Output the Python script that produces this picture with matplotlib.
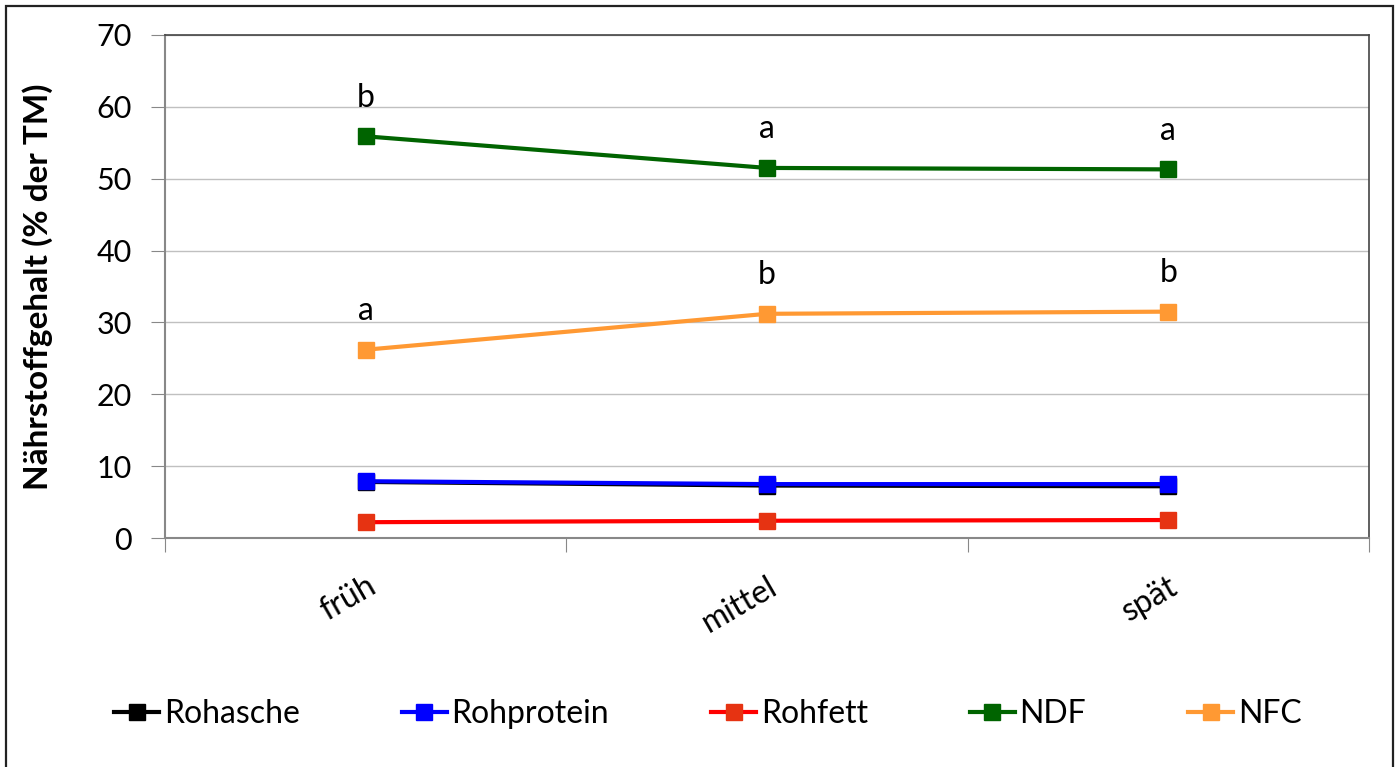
import matplotlib.pyplot as plt
from matplotlib.patches import Rectangle

# Daten
stufen = ['früh', 'mittel', 'spät']
rohasche = [7.8, 7.3, 7.2]
rohprotein = [7.9, 7.5, 7.5]
rohfett = [2.2, 2.4, 2.5]
ndf = [55.9, 51.5, 51.3]
nfc = [26.2, 31.2, 31.5]
buchst_ndf = ['b', 'a', 'a']
buchst_nfc = ['a', 'b', 'b']

plt.rcParams['font.family'] = ['Lato', 'DejaVu Sans']

fig = plt.figure(figsize=(13.99, 7.67), dpi=100)
ax = fig.add_axes([165/1399, 1 - 538/767, (1369-165)/1399, (538-35)/767])

# Rahmen um die ganze Grafik
fig.patches.append(Rectangle((6/1399, -0.02), (1393-6)/1399, 1.02 - 6/767,
                             transform=fig.transFigure, fill=False,
                             edgecolor='#222222', linewidth=1.6))

x = [0.5, 1.5, 2.5]
serien = [
    ('Rohasche', rohasche, 'black', 'black'),
    ('Rohprotein', rohprotein, '#0000ff', '#0000ff'),
    ('Rohfett', rohfett, '#ff0000', '#e63312'),
    ('NDF', ndf, '#006400', '#006400'),
    ('NFC', nfc, '#ff9933', '#ff9933'),
]
for name, werte, farbe, mfarbe in serien:
    ax.plot(x, werte, color=farbe, linewidth=3, marker='s', markersize=12,
            markerfacecolor=mfarbe, markeredgecolor=mfarbe, label=name)

# Signifikanzbuchstaben
for xi, v, b in zip(x, ndf, buchst_ndf):
    ax.text(xi, v + 3.3, b, ha='center', va='bottom', fontsize=23)
for xi, v, b in zip(x, nfc, buchst_nfc):
    ax.text(xi, v + 3.3, b, ha='center', va='bottom', fontsize=23)

ax.set_xlim(0, 3)
ax.set_ylim(0, 70)
ax.set_yticks(range(0, 71, 10))
ax.tick_params(axis='y', labelsize=22, length=10, color='#888888', pad=14)
ax.set_xticks([0, 1, 2, 3])
ax.set_xticklabels([])
ax.set_xticks(x, minor=True)
ax.set_xticklabels(stufen, minor=True, rotation=30, ha='right', rotation_mode='anchor', fontsize=23)
ax.tick_params(axis='x', which='major', length=10, color='#888888')
ax.tick_params(axis='x', which='minor', length=0, pad=24)
ax.grid(axis='y', color='#c0c0c0', linewidth=1)
ax.set_axisbelow(True)

for s in ['left', 'bottom']:
    ax.spines[s].set_color('#888888')
    ax.spines[s].set_linewidth(1.5)
for s in ['top', 'right']:
    ax.spines[s].set_color('#444444')
    ax.spines[s].set_linewidth(1.2)

ax.set_ylabel('Nährstoffgehalt (% der TM)', fontsize=24, fontweight='bold', labelpad=31)

ax.legend(loc='center', bbox_to_anchor=(0.451, -0.35), ncol=5, frameon=False,
          fontsize=23, handlelength=1.4, handletextpad=0.15, columnspacing=3.2)

plt.savefig('out.png', dpi=100)
